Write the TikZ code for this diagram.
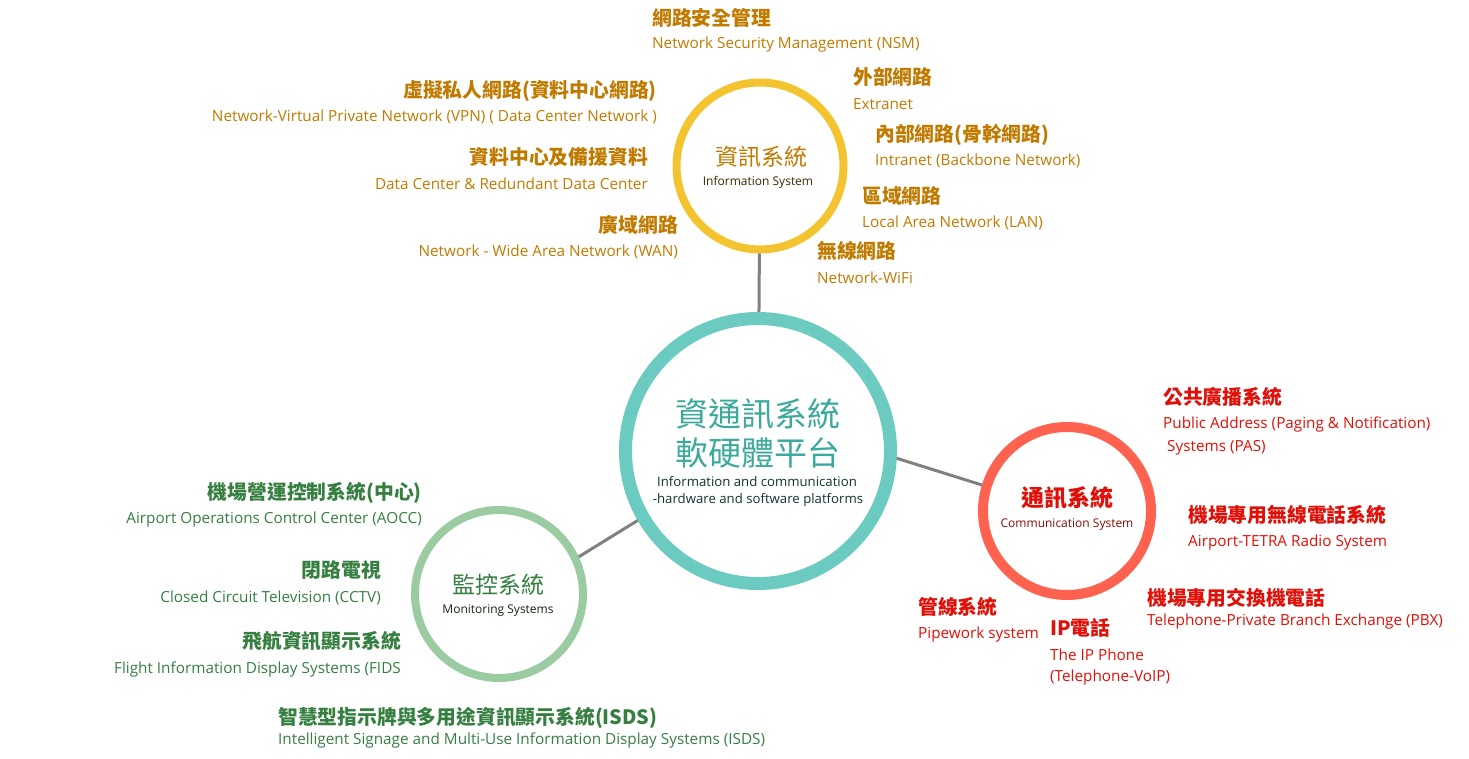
\documentclass[tikz,border=0pt]{standalone}
\usepackage{fontspec}
\setmainfont{Open Sans}
\newfontfamily\zhfont{Noto Sans CJK TC}

\definecolor{infoc}{HTML}{F4C430}
\definecolor{icpc}{HTML}{6CCBC0}
\definecolor{commc}{HTML}{FF6350}
\definecolor{monc}{HTML}{9BCBA0}
\colorlet{linkc}{black!50}
\definecolor{infotext}{HTML}{C07A00}
\definecolor{commtext}{HTML}{E01008}
\definecolor{montext}{HTML}{357F40}
\definecolor{icptext}{HTML}{3BAA9C}
\tikzset{
  ring/.style={circle,inner sep=0pt,line width=8pt},
  link/.style={draw=linkc,line width=3pt},
  zh/.style={inner sep=0pt,font=\zhfont\bfseries\fontsize{19.8}{23}\selectfont},
  en/.style={inner sep=0pt,font=\fontsize{15.3}{18}\selectfont},
  title/.style={inner sep=0pt,font=\zhfont\fontsize{23}{27}\selectfont},
  subtitle/.style={inner sep=0pt,font=\fontsize{12}{14}\selectfont},
}

\begin{document}
\begin{tikzpicture}[x=1pt,y=-1pt]
  \useasboundingbox (0,0) rectangle (1469,758);

  % the four rings
  \node [ring,draw=icpc,line width=13pt,minimum size=265pt] (icp) at (758,451) {};
  \node [ring,draw=infoc,minimum size=167pt] (info) at (760,166) {};
  \node [ring,draw=commc,line width=10pt,minimum size=168pt] (comm) at (1067,511) {};
  \node [ring,draw=monc,minimum size=168pt] (mon) at (499,594) {};

  \draw [link] (info) -- (icp);
  \draw [link] (icp.-3) -- (comm.163);
  \draw [link] (icp.210) -- (mon.25);

  % texts in the rings
  \node [title,text=icptext,font=\zhfont\fontsize{33}{37}\selectfont] (icp-zh1) at (758,414) {資通訊系統};
  \node [title,text=icptext,font=\zhfont\fontsize{33}{37}\selectfont] (icp-zh2) at (758,453) {軟硬體平台};
  \node [subtitle,text=icptext!30!black,font=\fontsize{13.2}{15}\selectfont] (icp-en1) at (757,482) {Information and communication};
  \node [subtitle,text=icptext!30!black,font=\fontsize{13.2}{15}\selectfont] (icp-en2) at (758,500) {-hardware and software platforms};
  \node [title,text=infotext] (info-zh) at (761,157) {資訊系統};
  \node [subtitle,text=infotext!30!black] (info-en) at (758,182) {Information System};
  \node [title,text=commtext,font=\zhfont\bfseries\fontsize{23}{27}\selectfont] (comm-zh) at (1067,498) {通訊系統};
  \node [subtitle,text=commtext!60!black] (comm-en) at (1067,525) {Communication System};
  \node [title,text=montext] (mon-zh) at (498,585) {監控系統};
  \node [subtitle,text=montext!30!black] (mon-en) at (498,611) {Monitoring Systems};

  % information system
  \foreach \n/\a/\x/\yz/\ye/\zh/\en in {
    nsm/west/652/18/45/{網路安全管理}/{Network Security Management (NSM)},
    vpn/east/657/91/117/{虛擬私人網路(資料中心網路)}/{Network-Virtual Private Network (VPN) ( Data Center Network )},
    dc/east/648/157/184/{資料中心及備援資料}/{Data Center \& Redundant Data Center},
    wan/east/678/225/252/{廣域網路}/{Network - Wide Area Network (WAN)},
    ext/west/853/77/104/{外部網路}/{Extranet},
    intra/west/875/135/161/{內部網路(骨幹網路)}/{Intranet (Backbone Network)},
    lan/west/862/196/223/{區域網路}/{Local Area Network (LAN)},
    wifi/west/817/251/278/{無線網路}/{Network-WiFi}}
  {
    \node [zh,text=infotext,anchor=\a] (\n) at (\x,\yz) {\zh};
    \node [en,text=infotext,anchor=\a] (\n-en) at (\x,\ye) {\en};
  }

  % communication system
  \foreach \n/\a/\x/\yz/\ye/\zh/\en in {
    pas/west/1163/397/424/{公共廣播系統}/{Public Address (Paging \& Notification)},
    tetra/west/1188/515/543/{機場專用無線電話系統}/{Airport-TETRA Radio System},
    pbx/west/1147/598/622/{機場專用交換機電話}/{Telephone-Private Branch Exchange (PBX)},
    pipe/west/918/607/635/{管線系統}/{Pipework system},
    voip/west/1050/628/655/{IP電話}/{The IP Phone}}
  {
    \node [zh,text=commtext,anchor=\a] (\n) at (\x,\yz) {\zh};
    \node [en,text=commtext,anchor=\a] (\n-en) at (\x,\ye) {\en};
  }
  \node [en,text=commtext,anchor=west] (pas-en2) at (1167,448) {Systems (PAS)};
  \node [en,text=commtext,anchor=west] (voip-en2) at (1050,678) {(Telephone-VoIP)};

  % monitoring systems
  \foreach \n/\a/\x/\yz/\ye/\zh/\en in {
    aocc/east/422/493/520/{機場營運控制系統(中心)}/{Airport Operations Control Center (AOCC)},
    cctv/east/381/570/598/{閉路電視}/{Closed Circuit Television (CCTV)},
    fids/east/401/641/669/{飛航資訊顯示系統}/{Flight Information Display Systems (FIDS},
    isds/west/278/718/740/{智慧型指示牌與多用途資訊顯示系統(ISDS)}/{Intelligent Signage and Multi-Use Information Display Systems (ISDS)}}
  {
    \node [zh,text=montext,anchor=\a] (\n) at (\x,\yz) {\zh};
    \node [en,text=montext,anchor=\a] (\n-en) at (\x,\ye) {\en};
  }
\end{tikzpicture}
\end{document}
